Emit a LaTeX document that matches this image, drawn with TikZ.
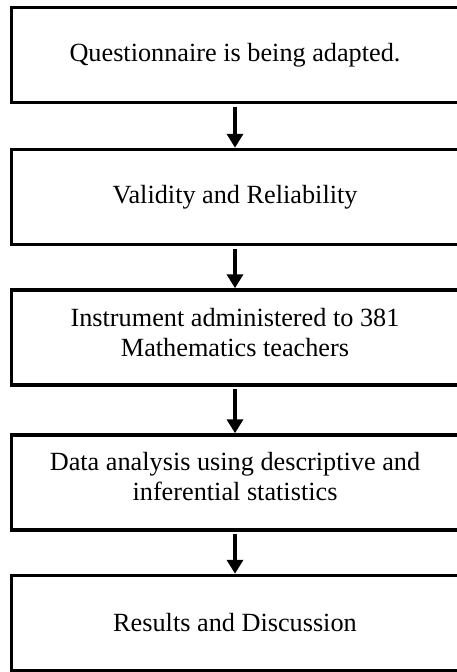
\documentclass[tikz,border=0pt]{standalone}
\usepackage{fontspec}
\setmainfont{Liberation Serif}
\usetikzlibrary{arrows.meta}
\begin{document}
\begin{tikzpicture}[x=1pt,y=-1pt,
  boxfont/.style={align=center, font=\fontsize{26.25pt}{30.2pt}\selectfont},
  stepbox/.style={draw=black, line width=3.5pt, minimum width=447pt, minimum height=95pt,
    inner sep=0pt, boxfont},
  flow/.style={line width=3.5pt, -{Triangle[width=16pt,length=14pt]}, shorten <=2.5pt}]
\useasboundingbox (0,0) rectangle (456,672);
\node[stepbox] (b1) at (235,55) {Questionnaire is being adapted.};
\node[stepbox] (b2) at (235,197) {Validity and Reliability};
\node[stepbox, label={[boxfont, yshift=5pt]center:Instrument administered to 381\\Mathematics teachers}] (b3) at (235,337.5) {};
\node[stepbox, label={[boxfont, yshift=6pt]center:Data analysis using descriptive and\\inferential statistics}] (b4) at (235,482.5) {};
\node[stepbox] (b5) at (235,623) {Results and Discussion};
\draw[flow] (b1.south) -- (b2.north);
\draw[flow] (b2.south) -- (b3.north);
\draw[flow] (b3.south) -- (b4.north);
\draw[flow] (b4.south) -- (b5.north);
\end{tikzpicture}
\end{document}
